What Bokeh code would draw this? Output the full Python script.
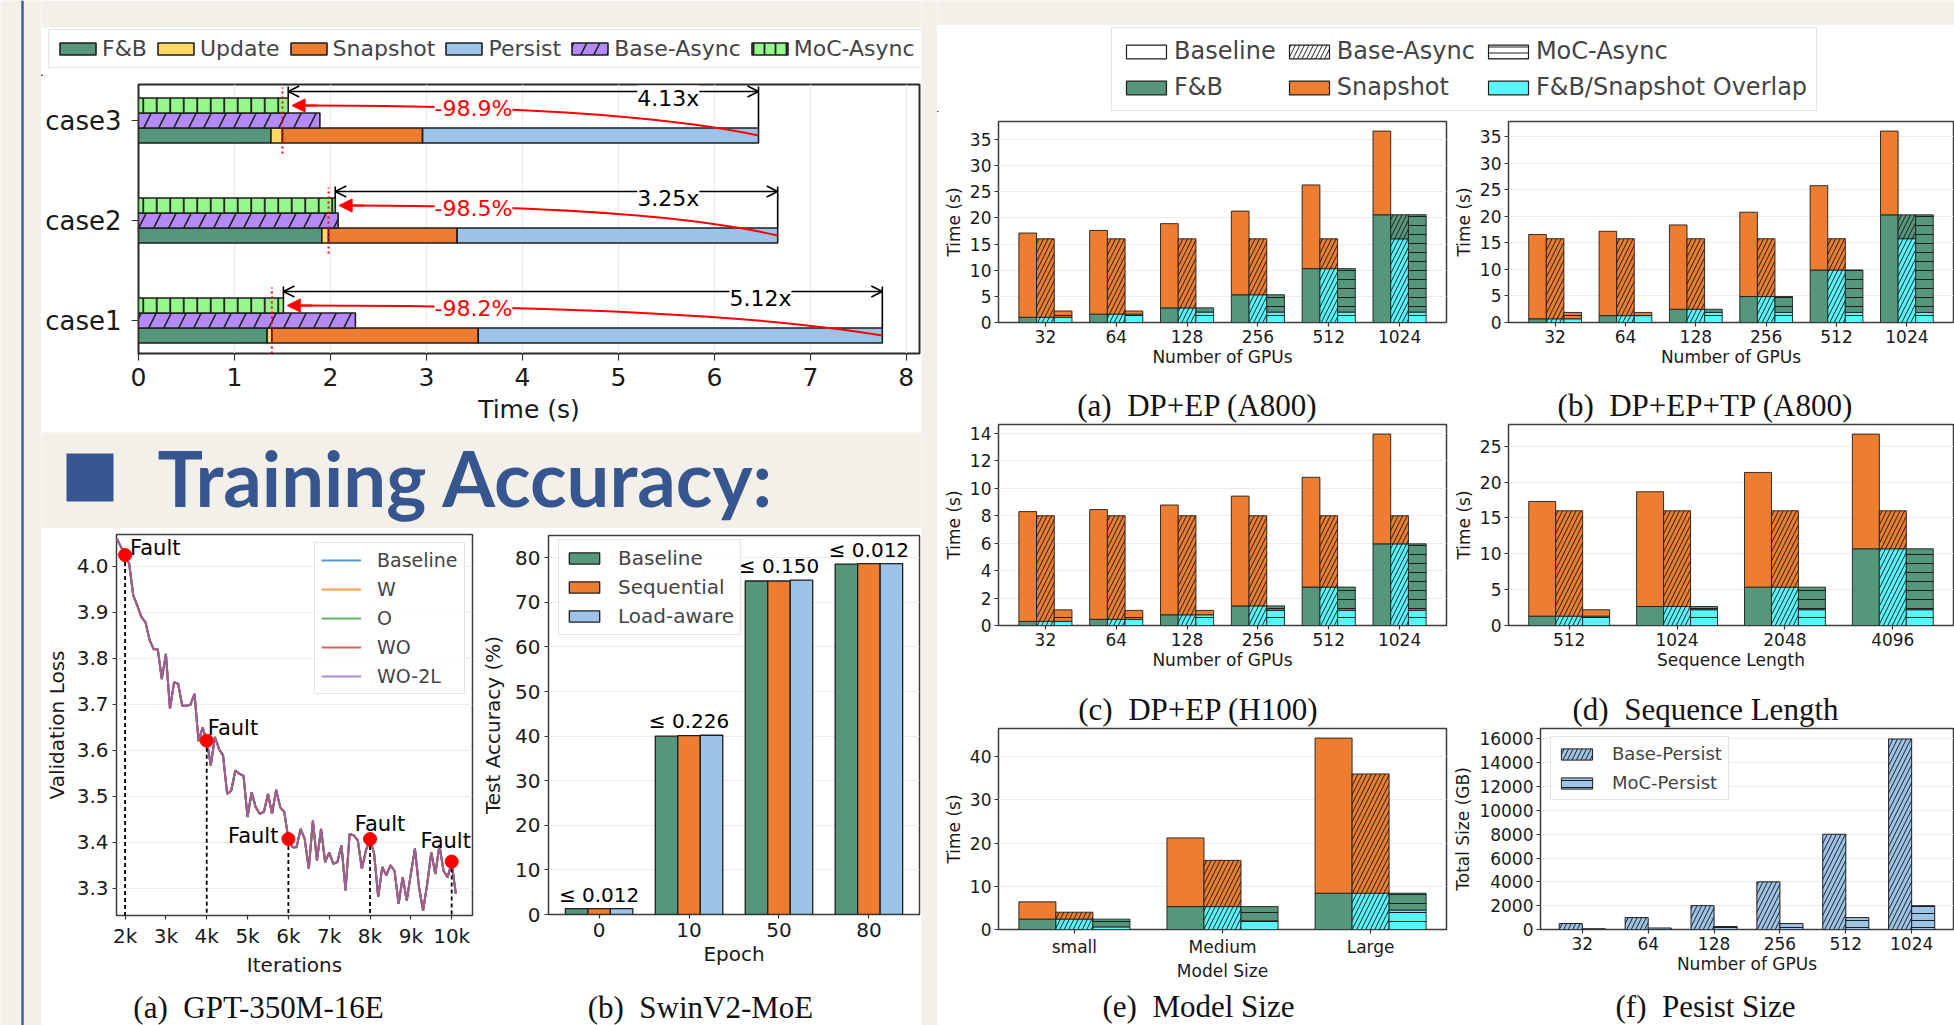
import numpy as np
from bokeh.plotting import figure
from bokeh.layouts import row, column
from bokeh.models import (ColumnDataSource, Range1d, FixedTicker, Legend, LegendItem,
                          Label, LabelSet, Arrow, OpenHead, NormalHead, Span, BoxAnnotation)
from bokeh.embed import file_html
from bokeh.resources import INLINE
from bokeh.core.properties import value

# ---------------------------------------------------------------- data
cases = ["case1", "case2", "case3"]
fb_time = [1.34, 1.91, 1.38]
update_time = [0.05, 0.07, 0.12]
snapshot_time = [2.15, 1.34, 1.46]
persist_time = [4.21, 3.34, 3.50]
base_async_time = [2.26, 2.08, 1.89]
moc_async_time = [1.51, 2.05, 1.56]
speedup_labels = ["5.12x", "3.25x", "4.13x"]
reduction_labels = ["-98.2%", "-98.5%", "-98.9%"]
time_ticks = [0, 1, 2, 3, 4, 5, 6, 7, 8]

loss_iters = [1800, 2000, 2100, 2200, 2300, 2400, 2500, 2600, 2700, 2800, 2900,
              3000, 3100, 3200, 3300, 3400, 3500, 3600, 3700, 3800, 3900,
              4000, 4100, 4200, 4300, 4400, 4500, 4600, 4700, 4800, 4900,
              5000, 5100, 5200, 5300, 5400, 5500, 5600, 5700, 5800, 5900,
              6000, 6100, 6200, 6300, 6400, 6500, 6600, 6700, 6800, 6900,
              7000, 7100, 7200, 7300, 7400, 7500, 7600, 7700, 7800, 7900,
              8000, 8100, 8200, 8300, 8400, 8500, 8600, 8700, 8800, 8900,
              9000, 9100, 9200, 9300, 9400, 9500, 9600, 9700, 9800, 9900,
              10000, 10100]
loss_values = [4.060, 4.025, 4.006, 3.937, 3.915, 3.890, 3.879, 3.840, 3.820, 3.820, 3.755,
               3.810, 3.690, 3.748, 3.745, 3.697, 3.697, 3.699, 3.723, 3.620, 3.650,
               3.621, 3.567, 3.629, 3.603, 3.589, 3.505, 3.512, 3.556, 3.549, 3.545,
               3.455, 3.509, 3.476, 3.462, 3.466, 3.505, 3.462, 3.514, 3.476, 3.466,
               3.407, 3.389, 3.389, 3.429, 3.407, 3.342, 3.447, 3.360, 3.429, 3.357,
               3.378, 3.353, 3.357, 3.393, 3.295, 3.418, 3.415, 3.404, 3.342, 3.382,
               3.407, 3.375, 3.281, 3.346, 3.328, 3.350, 3.338, 3.266, 3.324, 3.273,
               3.331, 3.386, 3.302, 3.251, 3.309, 3.378, 3.331, 3.393, 3.338, 3.324,
               3.356, 3.288]
loss_series_names = ["Baseline", "W", "O", "WO", "WO-2L"]
fault_iters = [2000, 4000, 6000, 8000, 10000]
fault_loss = [4.025, 3.621, 3.407, 3.407, 3.358]
iter_ticks = [2000, 3000, 4000, 5000, 6000, 7000, 8000, 9000, 10000]
iter_tick_labels = ["2k", "3k", "4k", "5k", "6k", "7k", "8k", "9k", "10k"]
loss_ticks = [3.3, 3.4, 3.5, 3.6, 3.7, 3.8, 3.9, 4.0]

epochs = ["0", "10", "50", "80"]
acc_baseline = [1.3, 40.0, 74.8, 78.6]
acc_sequential = [1.3, 40.1, 74.8, 78.7]
acc_loadaware = [1.3, 40.2, 75.0, 78.7]
acc_gap_labels = ["\u2264 0.012", "\u2264 0.226", "\u2264 0.150", "\u2264 0.012"]

gpus = ["32", "64", "128", "256", "512", "1024"]
a_fb = [1.0, 1.6, 2.8, 5.3, 10.3, 20.6]
a_snap_base = [16.1, 16.0, 16.1, 16.0, 16.0, 16.0]
a_snap_async = [16.0, 16.0, 16.0, 16.0, 16.0, 16.0]
a_snap_moc = [2.2, 2.2, 2.0, 2.0, 2.0, 2.0]

b_fb = [0.7, 1.3, 2.5, 4.9, 9.9, 20.3]
b_snap_base = [15.9, 15.9, 15.9, 15.9, 15.9, 15.8]
b_snap_async = [15.8, 15.8, 15.8, 15.8, 15.8, 15.8]
b_snap_moc = [1.9, 1.9, 1.9, 1.9, 1.9, 1.9]

c_fb = [0.3, 0.45, 0.78, 1.43, 2.8, 5.95]
c_snap_base = [8.0, 8.0, 8.0, 8.0, 8.0, 8.0]
c_snap_async = [8.0, 8.0, 8.0, 8.0, 8.0, 8.0]
c_snap_moc = [1.14, 1.1, 1.1, 1.1, 1.1, 1.1]

seq_lens = ["512", "1024", "2048", "4096"]
d_fb = [1.3, 2.65, 5.35, 10.7]
d_snap_base = [16.0, 16.0, 16.0, 16.0]
d_snap_async = [16.0, 16.0, 16.0, 16.0]
d_snap_moc = [2.2, 2.2, 2.2, 2.2]

model_sizes = ["small", "Medium", "Large"]
e_fb = [2.4, 5.3, 8.4]
e_snap_base = [4.0, 15.9, 35.9]
e_snap_async = [4.0, 16.0, 36.0]
e_snap_moc = [0.6, 2.0, 4.5]

base_persist = [500, 1000, 2000, 4000, 8000, 16000]
moc_persist = [62, 125, 250, 500, 1000, 2000]

# ---------------------------------------------------------------- style
BEIGE = "#f3f0e9"
HEAD_BLUE = "#37568f"
GREEN = "#56967b"
ORANGE = "#ed7d31"
LBLUE = "#9dc3e6"
YELLOW = "#ffd966"
PURPLE = "#b48af7"
LGREEN = "#96f78d"
CYAN = "#58f6f8"
EDGE = "#1e1e1e"
FONT = "DejaVu Sans"
SERIF = "Liberation Serif"
LINE_COLORS = ["#1f77b4", "#ff7f0e", "#2ca02c", "#d62728", "#9467bd"]


def no_align(p):
    try:
        p.frame_align = False
    except Exception:
        pass
    return p


def blank(w, h, bg):
    p = figure(width=w, height=h, x_range=Range1d(0, w), y_range=Range1d(0, h),
               x_axis_type=None, y_axis_type=None, toolbar_location=None,
               output_backend="svg", min_border=0)
    p.background_fill_color = bg
    p.border_fill_color = bg
    p.outline_line_color = None
    return no_align(p)


def chart(w, h, xr, yr, ml, mr, mt, mb):
    p = figure(width=w, height=h, x_range=Range1d(*xr), y_range=Range1d(*yr),
               toolbar_location=None, output_backend="svg",
               min_border_left=ml, min_border_right=mr, min_border_top=mt, min_border_bottom=mb)
    p.outline_line_color = "#3d3d3d"
    p.outline_line_width = 1.5
    p.xgrid.grid_line_color = None
    p.ygrid.grid_line_color = "#ececec"
    return no_align(p)


def style_axes(p, tick_fs, label_fs, tick_out=4, standoff=3, lab_standoff=3):
    for ax in p.axis:
        ax.major_label_text_font = FONT
        ax.major_label_text_font_size = tick_fs
        ax.major_label_text_color = "#1a1a1a"
        ax.axis_label_text_font = FONT
        ax.axis_label_text_font_size = label_fs
        ax.axis_label_text_font_style = "normal"
        ax.axis_label_text_color = "#1a1a1a"
        ax.major_tick_out = tick_out
        ax.major_tick_in = 0
        ax.minor_tick_out = 0
        ax.minor_tick_in = 0
        ax.major_tick_line_color = "#333333"
        ax.major_tick_line_width = 1.2
        ax.major_label_standoff = standoff
        ax.axis_label_standoff = lab_standoff
        ax.axis_line_color = None


def caption_fig(w, h, text, cx, cy):
    p = blank(w, h, "white")
    p.add_layout(Label(x=cx, y=cy, text=text, text_align="center", text_baseline="middle",
                       text_font=SERIF, text_font_size="31px", text_color="#111111"))
    return p


def box(p):
    return row(p)


# ================================================================ top-left legend strip
leg_top_fig = blank(880, 76, "white")
leg_top_fig.add_layout(BoxAnnotation(left=0, right=880, bottom=49, top=76, fill_color=BEIGE,
                                     fill_alpha=1, line_color=None))
dk = dict(x=[-1000], top=[1], width=1, line_color=EDGE, line_width=1.6)
lt_fb = leg_top_fig.vbar(fill_color=GREEN, **dk)
lt_up = leg_top_fig.vbar(fill_color=YELLOW, **dk)
lt_sn = leg_top_fig.vbar(fill_color=ORANGE, **dk)
lt_pe = leg_top_fig.vbar(fill_color=LBLUE, **dk)
lt_ba = leg_top_fig.vbar(fill_color=PURPLE, hatch_pattern="/", hatch_scale=26, hatch_weight=1.6,
                         hatch_color=EDGE, **dk)
lt_mo = leg_top_fig.vbar(fill_color=LGREEN, hatch_pattern="|", hatch_scale=11, hatch_weight=1.8,
                         hatch_color=EDGE, **dk)
leg_top = Legend(items=[LegendItem(label="F&B", renderers=[lt_fb]),
                        LegendItem(label="Update", renderers=[lt_up]),
                        LegendItem(label="Snapshot", renderers=[lt_sn]),
                        LegendItem(label="Persist", renderers=[lt_pe]),
                        LegendItem(label="Base-Async", renderers=[lt_ba]),
                        LegendItem(label="MoC-Async", renderers=[lt_mo])],
                 location=(7, 8), orientation="horizontal", glyph_width=45, glyph_height=15,
                 label_standoff=2, spacing=6, padding=6, label_text_font=FONT,
                 label_text_font_size="22px", border_line_color="#cccccc",
                 background_fill_alpha=1.0, margin=0)
leg_top_fig.add_layout(leg_top)

# ================================================================ top-left timeline chart
fb = np.array(fb_time)
up = np.array(update_time)
sn = np.array(snapshot_time)
pe = np.array(persist_time)
ba = np.array(base_async_time)
mo = np.array(moc_async_time)
total = fb + up + sn + pe
yi = np.arange(len(cases), dtype=float)

p_top = chart(880, 356, (0, total.max() * 1.05), (-0.33, 2.36), 97, 2, 8, 79)
p_top.ygrid.grid_line_color = None
p_top.xgrid.grid_line_color = "#e9e9e9"
p_top.outline_line_color = "#2a2a2a"
p_top.outline_line_width = 2

bar_kw = dict(height=0.15, line_color=EDGE, line_width=1.6)
p_top.hbar(y=yi - 0.15, left=0, right=fb, fill_color=GREEN, **bar_kw)
p_top.hbar(y=yi - 0.15, left=fb, right=fb + up, fill_color=YELLOW, **bar_kw)
p_top.hbar(y=yi - 0.15, left=fb + up, right=fb + up + sn, fill_color=ORANGE, **bar_kw)
p_top.hbar(y=yi - 0.15, left=fb + up + sn, right=total, fill_color=LBLUE, **bar_kw)
p_top.hbar(y=yi, left=0, right=ba, fill_color=PURPLE, hatch_pattern="/",
           hatch_scale=30, hatch_weight=1.6, hatch_color=EDGE, **bar_kw)
p_top.hbar(y=yi + 0.15, left=0, right=mo, fill_color=LGREEN, hatch_pattern="|",
           hatch_scale=13.5, hatch_weight=1.8, hatch_color=EDGE, **bar_kw)

p_top.segment(x0=fb + up, y0=yi - 0.33, x1=fb + up, y1=yi + 0.33, line_color="red",
              line_dash="2 3", line_width=2)
p_top.segment(x0=mo, y0=yi + 0.225, x1=mo, y1=yi + 0.34, line_color="black", line_width=1.6)
p_top.segment(x0=total, y0=yi - 0.075, x1=total, y1=yi + 0.34, line_color="black", line_width=1.6)
curve_src = ColumnDataSource(dict(x0=total, y0=yi - 0.15, x1=mo + 0.12, y1=yi + 0.15,
                                  cx=mo + 0.7 * (total - mo), cy=yi + 0.15))
p_top.quadratic(x0="x0", y0="y0", x1="x1", y1="y1", cx="cx", cy="cy", source=curve_src,
                line_color="red", line_width=2)
red_src = ColumnDataSource(dict(xs=mo + 0.3, xe=mo + 0.04, y=yi + 0.15))
p_top.add_layout(Arrow(end=NormalHead(size=13, fill_color="red", line_color="red"),
                       x_start="xs", y_start="y", x_end="xe", y_end="y", source=red_src,
                       line_color="red", line_width=2))
arr_src = ColumnDataSource(dict(x0=mo, x1=total, y=yi + 0.29))
p_top.add_layout(Arrow(start=OpenHead(size=11, line_width=1.6), end=OpenHead(size=11, line_width=1.6),
                       x_start="x0", y_start="y", x_end="x1", y_end="y", source=arr_src,
                       line_color="black", line_width=1.6))
speed_text_x = [6.48, 5.52, 5.52]
sp_src = ColumnDataSource(dict(x=speed_text_x, y=yi + 0.225, t=speedup_labels))
p_top.add_layout(LabelSet(x="x", y="y", text="t", source=sp_src, text_align="center",
                          text_baseline="middle", text_font=value(FONT), text_font_size="22px",
                          text_color="black", background_fill_color="white"))
red_text_x = [3.49, 3.49, 3.49]
rd_src = ColumnDataSource(dict(x=red_text_x, y=yi + 0.12, t=reduction_labels))
p_top.add_layout(LabelSet(x="x", y="y", text="t", source=rd_src, text_align="center",
                          text_baseline="middle", text_font=value(FONT), text_font_size="22px",
                          text_color="red", background_fill_color="white"))

p_top.xaxis.ticker = FixedTicker(ticks=time_ticks)
p_top.xaxis.axis_label = "Time (s)"
p_top.yaxis.ticker = FixedTicker(ticks=list(yi))
p_top.yaxis.major_label_overrides = {float(i): c for i, c in enumerate(cases)}
style_axes(p_top, "25px", "25px", tick_out=7, standoff=7, lab_standoff=6)
p_top.yaxis.major_label_text_font_size = "26px"
p_top.yaxis.major_label_standoff = 10

# ================================================================ heading
heading = blank(880, 96, BEIGE)
heading.add_layout(BoxAnnotation(left=25, right=72, bottom=27, top=75, fill_color=HEAD_BLUE,
                                 fill_alpha=1, line_color=None))
heading.add_layout(Label(x=116, y=51, text="Training Accuracy:", text_font="Lato",
                         text_font_style="bold", text_font_size="76px", text_color=HEAD_BLUE,
                         text_baseline="middle"))

# ================================================================ validation loss
p_line = chart(437, 452, (1790, 10510), (3.2406, 4.0696), 71, 6, 6, 65)
line_rs = []
for name, col in zip(loss_series_names, LINE_COLORS):
    line_rs.append(p_line.line(loss_iters, loss_values, line_color=col, line_width=2, line_alpha=0.75))
p_line.segment(x0=fault_iters, y0=fault_loss, x1=fault_iters, y1=3.2406, line_color="black",
               line_dash="4 3", line_width=1.8)
p_line.scatter(fault_iters, fault_loss, size=13, fill_color="red", line_color="red")
fault_label_style = [("left", 5, -7), ("left", 1, -13), ("right", -10, -3), ("center", 10, -15),
                     ("center", -6, -21)]
for fx, fy, (al, dx, dy) in zip(fault_iters, fault_loss, fault_label_style):
    p_line.text(x=[fx], y=[fy], text=["Fault"], text_align=al, text_baseline="middle",
                x_offset=dx, y_offset=dy, text_font=value(FONT), text_font_size="21px",
                text_color="black")
p_line.xaxis.ticker = FixedTicker(ticks=iter_ticks)
p_line.xaxis.major_label_overrides = {t: l for t, l in zip(iter_ticks, iter_tick_labels)}
p_line.yaxis.ticker = FixedTicker(ticks=loss_ticks)
p_line.yaxis.major_label_overrides = {t: f"{t:.1f}" for t in loss_ticks}
p_line.xaxis.axis_label = "Iterations"
p_line.yaxis.axis_label = "Validation Loss"
style_axes(p_line, "20px", "20px", tick_out=4, standoff=4, lab_standoff=5)
p_line.xaxis.axis_label_standoff = 2
leg_line = Legend(items=[LegendItem(label=n, renderers=[r]) for n, r in zip(loss_series_names, line_rs)],
                  location=(198, 221), glyph_width=40, glyph_height=22, label_standoff=16,
                  spacing=7, padding=6, label_text_font=FONT, label_text_font_size="19px",
                  border_line_color="#cccccc", background_fill_alpha=0.85, margin=0)
p_line.add_layout(leg_line)

# ================================================================ accuracy bars
ei = np.arange(len(epochs), dtype=float)
p_acc = chart(443, 452, (-0.5625, 3.5625), (0, 85), 65, 2, 7, 66)
akw = dict(width=0.25, line_color=EDGE, line_width=1.3)
ra1 = p_acc.vbar(x=ei - 0.25, top=acc_baseline, fill_color=GREEN, **akw)
ra2 = p_acc.vbar(x=ei, top=acc_sequential, fill_color=ORANGE, **akw)
ra3 = p_acc.vbar(x=ei + 0.25, top=acc_loadaware, fill_color=LBLUE, **akw)
acc_top = np.maximum(np.maximum(acc_baseline, acc_sequential), acc_loadaware)
p_acc.text(x=ei, y=acc_top, text=acc_gap_labels, text_align="center", text_baseline="bottom",
           y_offset=-2, text_font=value(FONT), text_font_size="20px", text_color="black")
p_acc.xaxis.ticker = FixedTicker(ticks=list(ei))
p_acc.xaxis.major_label_overrides = {float(i): e for i, e in enumerate(epochs)}
p_acc.yaxis.ticker = FixedTicker(ticks=[0, 10, 20, 30, 40, 50, 60, 70, 80])
p_acc.xaxis.axis_label = "Epoch"
p_acc.yaxis.axis_label = "Test Accuracy (%)"
style_axes(p_acc, "20px", "20px", tick_out=4, standoff=4, lab_standoff=7)
p_acc.xaxis.axis_label_standoff = 2
leg_acc = Legend(items=[LegendItem(label="Baseline", renderers=[ra1]),
                        LegendItem(label="Sequential", renderers=[ra2]),
                        LegendItem(label="Load-aware", renderers=[ra3])],
                 location=(10, 279), glyph_width=38, glyph_height=14, label_standoff=15,
                 spacing=5, padding=6, label_text_font=FONT, label_text_font_size="20px",
                 border_line_color="#cccccc", background_fill_alpha=0.85, margin=0)
p_acc.add_layout(leg_acc)

cap_line = caption_fig(437, 45, "(a)\u2002GPT-350M-16E", 217, 18)
cap_acc = caption_fig(443, 45, "(b)\u2002SwinV2-MoE", 222, 18)


# ================================================================ right panels
def add_seg(p, x, b, t, color, hatch, w=0.25):
    x = np.asarray(x, float)
    b = np.broadcast_to(np.asarray(b, float), x.shape)
    t = np.asarray(t, float)
    m = t > b + 1e-9
    if not m.any():
        return None
    kw = dict(x=x[m], bottom=b[m], top=t[m], width=w, fill_color=color, line_color=EDGE,
              line_width=1.0, line_alpha=0.9)
    if hatch:
        kw.update(hatch_pattern=hatch, hatch_scale=9, hatch_weight=1.0, hatch_color=EDGE)
    return p.vbar(**kw)


def gpu_panel(w, h, ml, mr, mt, mb, cats, fbv, sbv, sav, smv, yticks, xlabel):
    n = len(cats)
    idx = np.arange(n, dtype=float)
    fbv = np.array(fbv, float)
    sbv = np.array(sbv, float)
    sav = np.array(sav, float)
    smv = np.array(smv, float)
    span = (n - 1) + 0.75
    pad = 0.05 * span
    ymax = max((fbv + sbv).max(), sav.max(), fbv.max()) * 1.05
    p = chart(w, h, (-0.375 - pad, n - 1 + 0.375 + pad), (0, ymax), ml, mr, mt, mb)
    add_seg(p, idx - 0.25, 0, fbv, GREEN, None)
    add_seg(p, idx - 0.25, fbv, fbv + sbv, ORANGE, None)
    for off, s, hatch in [(0.0, sav, "/"), (0.25, smv, "-")]:
        ov = np.minimum(fbv, s)
        add_seg(p, idx + off, 0, ov, CYAN, hatch)
        add_seg(p, idx + off, ov, fbv, GREEN, hatch)
        add_seg(p, idx + off, fbv, np.maximum(s, fbv), ORANGE, hatch)
    p.xaxis.ticker = FixedTicker(ticks=list(idx))
    p.xaxis.major_label_overrides = {float(i): c for i, c in enumerate(cats)}
    p.yaxis.ticker = FixedTicker(ticks=yticks)
    p.xaxis.axis_label = xlabel
    p.yaxis.axis_label = "Time (s)"
    style_axes(p, "17px", "17px", tick_out=4, standoff=3, lab_standoff=3)
    p.xaxis.axis_label_standoff = 1
    return p


pa = gpu_panel(513, 263, 61, 4, 9, 53, gpus, a_fb, a_snap_base, a_snap_async, a_snap_moc,
               [0, 5, 10, 15, 20, 25, 30, 35], "Number of GPUs")
pb = gpu_panel(504, 263, 56, 1, 9, 53, gpus, b_fb, b_snap_base, b_snap_async, b_snap_moc,
               [0, 5, 10, 15, 20, 25, 30, 35], "Number of GPUs")
pc = gpu_panel(513, 257, 61, 4, 1, 55, gpus, c_fb, c_snap_base, c_snap_async, c_snap_moc,
               [0, 2, 4, 6, 8, 10, 12, 14], "Number of GPUs")
pd_ = gpu_panel(504, 257, 56, 1, 1, 55, seq_lens, d_fb, d_snap_base, d_snap_async, d_snap_moc,
                [0, 5, 10, 15, 20, 25], "Sequence Length")
pe_ = gpu_panel(513, 258, 61, 4, 1, 56, model_sizes, e_fb, e_snap_base, e_snap_async, e_snap_moc,
                [0, 10, 20, 30, 40], "Model Size")

gi = np.arange(len(gpus), dtype=float)
pf = chart(504, 258, (-0.635, 5.635), (0, max(base_persist) * 1.055), 89, 1, 1, 56)
rf1 = pf.vbar(x=gi - 0.175, top=base_persist, width=0.35, fill_color=LBLUE, line_color=EDGE,
              line_width=1.0, hatch_pattern="/", hatch_scale=9, hatch_weight=1.0, hatch_color=EDGE)
rf2 = pf.vbar(x=gi + 0.175, top=moc_persist, width=0.35, fill_color=LBLUE, line_color=EDGE,
              line_width=1.0, hatch_pattern="-", hatch_scale=7, hatch_weight=1.0, hatch_color=EDGE)
pf.xaxis.ticker = FixedTicker(ticks=list(gi))
pf.xaxis.major_label_overrides = {float(i): c for i, c in enumerate(gpus)}
pf.yaxis.ticker = FixedTicker(ticks=[0, 2000, 4000, 6000, 8000, 10000, 12000, 14000, 16000])
pf.xaxis.axis_label = "Number of GPUs"
pf.yaxis.axis_label = "Total Size (GB)"
style_axes(pf, "17px", "17px", tick_out=4, standoff=3, lab_standoff=3)
pf.xaxis.axis_label_standoff = 1
leg_f = Legend(items=[LegendItem(label="Base-Persist", renderers=[rf1]),
                      LegendItem(label="MoC-Persist", renderers=[rf2])],
               location=(10, 129), glyph_width=39, glyph_height=14, label_standoff=16,
               spacing=8, padding=6, label_text_font=FONT, label_text_font_size="18px",
               border_line_color="#cccccc", background_fill_alpha=0.85, margin=0)
pf.add_layout(leg_f)

cap_a = caption_fig(513, 48, "(a)\u2002DP+EP (A800)", 260, 18)
cap_b = caption_fig(504, 48, "(b)\u2002DP+EP+TP (A800)", 255, 18)
cap_c = caption_fig(513, 47, "(c)\u2002DP+EP (H100)", 261, 18)
cap_d = caption_fig(504, 47, "(d)\u2002Sequence Length", 255, 18)
cap_e = caption_fig(513, 40, "(e)\u2002Model Size", 261, 19)
cap_f = caption_fig(504, 40, "(f)\u2002Pesist Size", 255, 19)

# ================================================================ shared legend (right)
p_leg = blank(1017, 87, "white")
lk = dict(x=[-1000], top=[1], width=1, line_color=EDGE, line_width=1.2)
lr_base = p_leg.vbar(fill_color="white", **lk)
lr_basy = p_leg.vbar(fill_color="white", hatch_pattern="/", hatch_scale=9, hatch_color=EDGE, **lk)
lr_masy = p_leg.vbar(fill_color="white", hatch_pattern="-", hatch_scale=6, hatch_color=EDGE, **lk)
lr_fb = p_leg.vbar(fill_color=GREEN, **lk)
lr_sn = p_leg.vbar(fill_color=ORANGE, **lk)
lr_ov = p_leg.vbar(fill_color=CYAN, **lk)
leg_r = Legend(items=[LegendItem(label="Baseline", renderers=[lr_base]),
                      LegendItem(label="Base-Async", renderers=[lr_basy]),
                      LegendItem(label="MoC-Async", renderers=[lr_masy]),
                      LegendItem(label="F&B", renderers=[lr_fb]),
                      LegendItem(label="Snapshot", renderers=[lr_sn]),
                      LegendItem(label="F&B/Snapshot Overlap", renderers=[lr_ov])],
               location=(174, 1), orientation="horizontal", ncols=3, glyph_width=50,
               glyph_height=17, label_standoff=3, spacing=8, padding=9, label_text_font=FONT,
               label_text_font_size="24px", border_line_color="#cccccc", margin=0)
p_leg.add_layout(leg_r)

# ================================================================ frame / background pieces
strip = blank(41, 1025, BEIGE)
strip.add_layout(Span(location=22, dimension="height", line_color="#3e5c9e", line_width=2.5))
gap = blank(16, 1025, BEIGE)
band_r = blank(1017, 25, BEIGE)

left_col = column(box(leg_top_fig), box(p_top), box(heading),
                  row(column(p_line, cap_line), column(p_acc, cap_acc)))
right_col = column(box(band_r), box(p_leg),
                   row(column(pa, cap_a), column(pb, cap_b)),
                   row(column(pc, cap_c), column(pd_, cap_d)),
                   row(column(pe_, cap_e), column(pf, cap_f)))
root = row(strip, left_col, gap, right_col)

open("out.html", "w").write(file_html(root, INLINE, "MoC poster"))
